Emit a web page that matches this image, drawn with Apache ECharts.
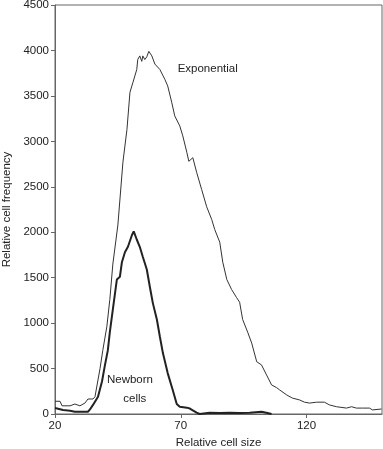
<!DOCTYPE html>
<html><head><meta charset="utf-8">
<script src="https://cdn.jsdelivr.net/npm/echarts@6/dist/echarts.min.js"></script>
<style>html,body{margin:0;padding:0;background:#fff}#c{width:383px;height:449px}</style>
</head><body><div id="c"></div>
<script>
// Relative cell size (x) and relative cell frequency (y)
const expX = [20,22,22.8,26,27.9,29.9,31.9,33.1,35.1,35.9,37.9,39,40.6,41.8,43,45,47,48.6,49.8,51,52.5,52.9,53.7,54.5,54.9,55.7,56.5,57.3,58.5,59.7,61.7,63.7,64.8,66.4,67.6,69.6,70.8,72.4,73.2,74.8,76.3,78.3,80.3,82.3,83.5,85.5,86.7,88.3,90.2,92.2,93.4,94.6,96.6,98.2,100.2,102.1,104.1,106.1,108.1,109.3,112.1,114.4,117.2,119.2,121.2,124,127.1,129.1,131.9,135.9,137.9,139.8,142.2,145,146.2,149.8];
const expY = [140,140,90,90,110,90,120,165,165,190,500,700,960,1260,1650,2080,2770,3130,3540,3650,3790,3900,3940,3880,3940,3900,3930,3990,3940,3850,3790,3680,3610,3430,3280,3170,3060,2880,2780,2820,2660,2470,2280,2140,2030,1890,1670,1480,1370,1280,1230,1040,900,780,575,540,430,320,290,265,210,175,155,130,120,130,130,100,80,65,80,65,65,65,45,55];
const newX = [20,23.2,26,27.9,33.1,33.9,35.1,37.1,38.7,39.8,41,41.8,43,44.6,45,45.8,46.6,47.8,49,50.6,51.3,52.5,53.7,54.9,56.5,57.7,58.9,60.5,61.7,62.9,64.8,66.8,68.4,69.6,72.4,73.6,76.3,77.5,81.5,85.5,89.4,93.4,97.4,102.1,104.5,106.1];
const newY = [65,45,35,25,25,50,100,190,360,530,700,900,1150,1480,1500,1510,1670,1780,1840,1970,2010,1920,1840,1730,1590,1400,1220,1040,850,670,450,265,110,80,70,60,15,0,15,10,15,10,15,25,10,0];
const xTicks = [20,70,120];
const xName = 'Relative cell size';
const yName = 'Relative cell frequency';
const labels = [
  {text:'Exponential', x:80.7, y:3794},
  {text:'Newborn', x:49.8, y:375},
  {text:'cells', x:51.7, y:165}
];

const font = 'Liberation Sans, Arial, sans-serif';
const chart = echarts.init(document.getElementById('c'), null, {renderer:'canvas'});
chart.setOption({
  animation:false,
  backgroundColor:'#fff',
  grid:{left:55, right:1, top:5, bottom:35, show:true, borderColor:'#666', borderWidth:1, backgroundColor:'transparent', containLabel:false, outerBoundsMode:'none'},
  xAxis:{type:'value', min:20, max:150,
    name:xName, nameLocation:'middle', nameGap:20,
    nameTextStyle:{fontFamily:font, fontSize:11.5, color:'#222'},
    axisLine:{show:true, lineStyle:{color:'#666', width:1}},
    axisTick:{show:true, length:4, lineStyle:{color:'#666'}, customValues:xTicks},
    axisLabel:{fontFamily:font, fontSize:11.5, color:'#222', margin:6, customValues:xTicks},
    splitLine:{show:false}},
  yAxis:{type:'value', min:0, max:4500, interval:500,
    name:yName, nameLocation:'middle', nameGap:42, nameRotate:90,
    nameTextStyle:{fontFamily:font, fontSize:11.5, color:'#222'},
    axisLine:{show:true, lineStyle:{color:'#666', width:1}},
    axisTick:{show:true, length:4, lineStyle:{color:'#666'}},
    axisLabel:{fontFamily:font, fontSize:11.5, color:'#222', margin:6, formatter:v=>String(v)},
    splitLine:{show:false}},
  series:[
    {type:'line', name:'Exponential', data:expX.map((x,i)=>[x,expY[i]]), showSymbol:false, symbol:'none',
      lineStyle:{color:'#333', width:1}, z:2,
      markPoint:{symbol:'circle', symbolSize:0, silent:true,
        data:labels.map(l=>({coord:[l.x,l.y], value:l.text, label:{show:true, formatter:l.text, position:'inside', fontFamily:font, fontSize:11.5, color:'#222'}}))}},
    {type:'line', name:'Newborn cells', data:newX.map((x,i)=>[x,newY[i]]), showSymbol:false, symbol:'none',
      lineStyle:{color:'#222', width:2}, z:3}
  ]
});
</script></body></html>
